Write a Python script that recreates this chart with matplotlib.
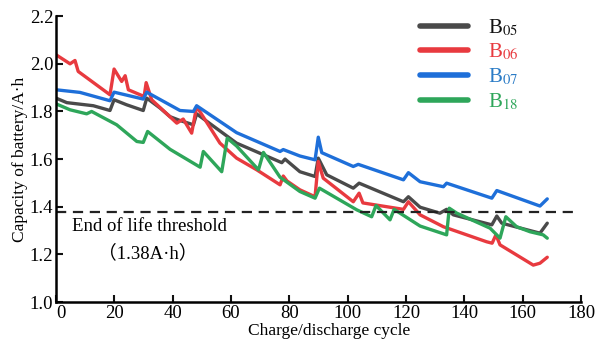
import matplotlib
matplotlib.use("Agg")
import matplotlib.pyplot as plt

plt.rcParams['font.family'] = ['Liberation Serif', 'Noto Sans CJK SC']
plt.rcParams['mathtext.fontset'] = 'stix'

# Data
b05_x = [0, 3.7, 12.8, 18.5, 19.9, 24.2, 29.9, 31.1, 35.7, 39.1, 42.5, 47.1, 48.2, 61.9, 77.4, 78.5,
         83.6, 88.8, 89.9, 92.8, 101.9, 103.9, 119.1, 120.8, 124.8, 131.6, 133.9, 136.2, 149.4, 151.1,
         152.8, 165.9, 168.4]
b05_y = [1.856, 1.837, 1.824, 1.804, 1.849, 1.828, 1.804, 1.856, 1.814, 1.778, 1.762, 1.744, 1.79,
         1.667, 1.585, 1.60, 1.547, 1.527, 1.604, 1.534, 1.478, 1.499, 1.421, 1.442, 1.398, 1.373,
         1.389, 1.366, 1.324, 1.361, 1.331, 1.289, 1.331]

b06_x = [0, 4.8, 6.5, 7.6, 18.5, 19.9, 22.5, 23.7, 24.8, 30.2, 30.9, 32.8, 41.4, 43.6, 46.5, 48.2,
         56.2, 61.9, 68.8, 76.8, 77.9, 79.2, 83.6, 88.8, 89.9, 91.6, 101.9, 103.9, 105.2, 119.1,
         120.8, 124.8, 132.8, 147.6, 149.5, 150.8, 152.2, 163.6, 165.9, 168.4]
b06_y = [2.038, 2.0, 2.014, 1.968, 1.870, 1.978, 1.926, 1.950, 1.891, 1.863, 1.921, 1.849, 1.751,
         1.768, 1.709, 1.821, 1.667, 1.604, 1.555, 1.492, 1.529, 1.508, 1.471, 1.442, 1.590, 1.520,
         1.421, 1.457, 1.416, 1.389, 1.421, 1.366, 1.316, 1.253, 1.247, 1.282, 1.24, 1.155, 1.163,
         1.188]

b07_x = [0, 8.2, 18.5, 19.9, 29.9, 31.1, 42.5, 47.1, 48.2, 61.9, 76.8, 77.9, 83.6, 88.8, 89.9, 91.1,
         101.9, 103.6, 119.1, 120.8, 124.8, 132.8, 133.9, 149.4, 151.1, 165.9, 168.4]
b07_y = [1.891, 1.880, 1.845, 1.881, 1.852, 1.881, 1.804, 1.80, 1.824, 1.711, 1.632, 1.640, 1.613,
         1.597, 1.692, 1.627, 1.569, 1.578, 1.513, 1.543, 1.505, 1.484, 1.499, 1.436, 1.468, 1.403,
         1.433]

b18_x = [0, 4.8, 10.5, 12.2, 20.8, 27.7, 29.9, 31.4, 39.1, 49.4, 50.5, 56.8, 58.7, 61.9, 69.4, 71.1,
         76.8, 83.6, 88.8, 90.3, 103.1, 108.2, 109.7, 114.5, 115.9, 124.8, 133.9, 134.8, 137.4,
         148.8, 152.2, 154.2, 157.9, 162.5, 167, 168.4]
b18_y = [1.832, 1.807, 1.790, 1.80, 1.744, 1.674, 1.670, 1.716, 1.641, 1.566, 1.632, 1.547, 1.688,
         1.655, 1.555, 1.628, 1.524, 1.464, 1.436, 1.478, 1.387, 1.358, 1.405, 1.345, 1.389, 1.319,
         1.282, 1.394, 1.373, 1.31, 1.268, 1.358, 1.316, 1.295, 1.282, 1.268]

threshold = 1.38
labels = ['B$_{05}$', 'B$_{06}$', 'B$_{07}$', 'B$_{18}$']
colors = ['#4a4a4a', '#e83a3f', '#1e6fd9', '#2ea65a']
text_colors = ['#111111', '#e83a3f', '#2a7bc6', '#2ea65a']

fig = plt.figure(figsize=(5.96, 3.44), dpi=100)
ax = fig.add_axes([0.094, 0.122, 0.881, 0.831])

series = [(b05_x, b05_y), (b06_x, b06_y), (b07_x, b07_y), (b18_x, b18_y)]
for (xs, ys), lab, c in zip(series, labels, colors):
    ax.plot(xs, ys, color=c, lw=2.4, label=lab, solid_capstyle='round')

ax.plot([0, 177.6], [threshold, threshold], color='#222222', lw=1.6,
        linestyle=(0, (4.6, 3.0)))
ax.text(5.5, 1.318, 'End of life threshold', fontsize=13.5, va='center', ha='left')
ax.text(31.5, 1.203, '（1.38A·h）', fontsize=13.5, va='center', ha='center')

ax.set_xlim(0, 180)
ax.set_ylim(1.0, 2.2)
ax.set_xticks(range(0, 181, 20))
ax.set_yticks([1.0, 1.2, 1.4, 1.6, 1.8, 2.0, 2.2])
ax.set_yticklabels(['1.0', '1.2', '1.4', '1.6', '1.8', '2.0', '2.2'])

for s in ['top', 'right']:
    ax.spines[s].set_visible(False)
for s in ['left', 'bottom']:
    ax.spines[s].set_linewidth(1.8)
ax.tick_params(direction='in', length=5, width=1.5, labelsize=13.5, pad=2, color='#111111')
ax.get_xticklabels()[0].set_ha('left')

ax.set_xlabel('Charge/discharge cycle', fontsize=12.5, labelpad=0.5)
ax.xaxis.set_label_coords(0.52, -0.075)
ax.set_ylabel('Capacity of battery/A·h', fontsize=12.5, labelpad=1)

leg = ax.legend(loc='upper left', bbox_to_anchor=(0.705, 0.950), bbox_transform=fig.transFigure,
                frameon=False, fontsize=15, handlelength=2.3, handletextpad=0.95,
                labelspacing=0.2, borderpad=0, borderaxespad=0, labelcolor=text_colors)
for h in leg.get_lines():
    h.set_linewidth(4)
    h.set_solid_capstyle('round')

fig.savefig('out.png', dpi=100)
